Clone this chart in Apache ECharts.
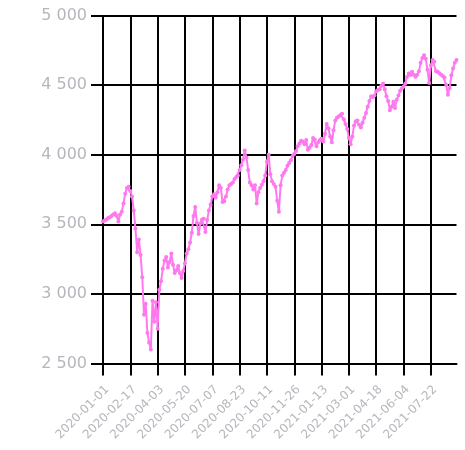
<!DOCTYPE html>
<html>
<head>
<meta charset="utf-8">
<script src="https://cdn.jsdelivr.net/npm/echarts@6/dist/echarts.min.js"></script>
<style>
html,body{margin:0;padding:0;background:#fff;}
#chart{width:465px;height:450px;}
</style>
</head>
<body>
<div id="chart"></div>
<script>
// Tick labels shown on the x axis (one every 16 samples)
var tickLabels = ["2020-01-01","2020-02-17","2020-04-03","2020-05-20","2020-07-07","2020-08-23","2020-10-11","2020-11-26","2021-01-13","2021-03-01","2021-04-18","2021-06-04","2021-07-22"];
var labelStep = 16;

// Series values
var values = [
3520,3528,3535,3545,3550,3560,3570,3580,3560,3520,3570,3590,3650,3720,3760,3770,
3740,3700,3600,3470,3300,3390,3280,3120,2850,2930,2720,2650,2600,2950,2800,2940,
2750,3030,3090,3180,3240,3265,3190,3230,3290,3210,3150,3170,3200,3150,3115,3165,
3220,3290,3320,3370,3440,3560,3625,3510,3430,3505,3535,3540,3445,3530,3600,3640,
3700,3715,3690,3730,3780,3760,3660,3665,3700,3750,3780,3790,3800,3825,3840,3850,
3890,3925,3965,4030,3980,3890,3800,3780,3750,3780,3650,3730,3760,3785,3810,3850,
3950,4000,3860,3810,3790,3770,3670,3590,3780,3850,3870,3890,3920,3940,3960,3990,
4005,4025,4060,4080,4100,4095,4075,4105,4035,4050,4070,4120,4110,4060,4090,4105,
4115,4095,4150,4220,4190,4130,4090,4175,4245,4265,4275,4285,4295,4255,4220,4185,
4120,4075,4130,4210,4240,4245,4215,4195,4230,4265,4300,4345,4385,4420,4415,4425,
4455,4465,4470,4495,4510,4470,4420,4385,4320,4345,4380,4335,4395,4425,4460,4475,
4488,4510,4558,4584,4572,4596,4575,4560,4575,4600,4660,4695,4715,4690,4610,4515,
4640,4680,4668,4600,4596,4585,4575,4565,4555,4500,4430,4480,4570,4620,4660,4680
];

// Categories: one per sample; tick label text at every labelStep-th sample
var categories = values.map(function (v, i) {
  return (i % labelStep === 0 && tickLabels[i / labelStep]) ? tickLabels[i / labelStep] : '';
});

var yMin = 2500, yMax = 5000, yStep = 500;

var chart = echarts.init(document.getElementById('chart'), null, {renderer: 'canvas'});
var gray = '#b6b6bd';
chart.setOption({
  animation: false,
  backgroundColor: '#ffffff',
  grid: {left: 103, right: 8.5, top: 15.5, bottom: 86.5, containLabel: false},
  xAxis: {
    type: 'category',
    data: categories,
    boundaryGap: false,
    axisLine: {show: true, lineStyle: {color: '#000', width: 2}},
    axisTick: {show: true, interval: labelStep - 1, length: 12, lineStyle: {color: '#000', width: 2}},
    splitLine: {show: true, interval: labelStep - 1, lineStyle: {color: '#000', width: 2}},
    axisLabel: {
      interval: labelStep - 1, rotate: 45, margin: 20, verticalAlign: 'top',
      color: gray, fontSize: 12, fontFamily: 'DejaVu Sans'
    }
  },
  yAxis: {
    type: 'value',
    min: yMin, max: yMax, interval: yStep,
    axisLine: {show: false},
    axisTick: {show: true, length: 12, lineStyle: {color: '#000', width: 2}},
    splitLine: {show: true, lineStyle: {color: '#000', width: 2}},
    axisLabel: {
      margin: 16, color: gray, fontSize: 16, fontFamily: 'DejaVu Sans',
      formatter: function (v) { return String(v).replace(/\B(?=(\d{3})+(?!\d))/g, ' '); }
    }
  },
  series: [{
    type: 'line',
    data: values,
    showSymbol: true,
    showAllSymbol: true,
    symbol: 'circle',
    symbolSize: 4,
    itemStyle: {color: '#ff78ee'},
    lineStyle: {color: '#ff78ee', width: 2},
    z: 3
  }]
});
</script>
</body>
</html>
